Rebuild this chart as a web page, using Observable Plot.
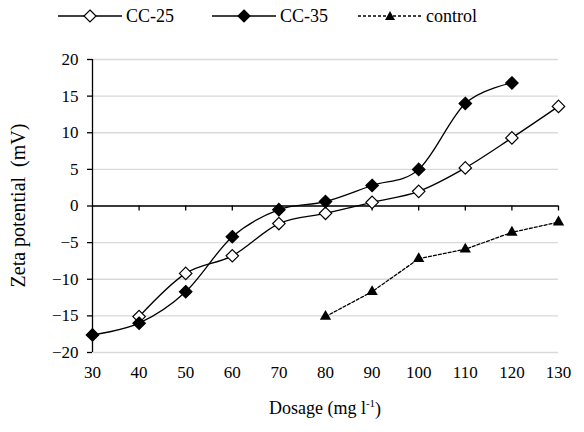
<!DOCTYPE html>
<html>
<head>
<meta charset="utf-8">
<script src="https://cdn.jsdelivr.net/npm/d3@7"></script>
<script src="https://cdn.jsdelivr.net/npm/@observablehq/plot@0.6"></script>
<style>
  body { margin: 0; background: #fff; font-family: "Liberation Serif", "Times New Roman", serif; }
  #legend { height: 32px; display: flex; align-items: center; font-size: 18px; padding-left: 58px; }
  #legend .item { display: flex; align-items: center; }
  #legend svg { margin-right: 4px; }
</style>
</head>
<body>
<div id="legend"></div>
<div id="chart"></div>
<script>
const dosage = [30, 40, 50, 60, 70, 80, 90, 100, 110, 120, 130];
const cc25 = [null, -15.1, -9.2, -6.8, -2.4, -1.0, 0.5, 2.0, 5.2, 9.3, 13.6];
const cc35 = [-17.6, -16.0, -11.7, -4.2, -0.5, 0.6, 2.8, 5.0, 14.0, 16.8, null];
const control = [null, null, null, null, null, -15.1, -11.7, -7.2, -5.9, -3.6, -2.2];
const yTicks = [-20, -15, -10, -5, 0, 5, 10, 15, 20];
const xTicks = [30, 40, 50, 60, 70, 80, 90, 100, 110, 120, 130];
const seriesNames = ["CC-25", "CC-35", "control"];

const toRows = (vals) => dosage.map((x, i) => ({x, y: vals[i]})).filter(d => d.y != null);
const d25 = toRows(cc25), d35 = toRows(cc35), dc = toRows(control);

const chart = Plot.plot({
  width: 584,
  height: 400,
  marginLeft: 92,
  marginRight: 26,
  marginTop: 27,
  marginBottom: 80,
  style: {fontFamily: "'Liberation Serif', 'Times New Roman', serif", fontSize: "17px", color: "#000", background: "#fff"},
  x: {domain: [30, 130]},
  y: {domain: [-20, 20]},
  marks: [
    Plot.ruleY(yTicks, {stroke: "#d9d9d9", strokeWidth: 1.3}),
    Plot.ruleY([0], {stroke: "#000", strokeWidth: 1.3}),
    Plot.ruleX([30], {y1: -20, y2: 20, stroke: "#000", strokeWidth: 1.3}),
    Plot.ruleX(xTicks.slice(1), {x: d => d, y1: 0, y2: 0, insetBottom: -5, stroke: "#000", strokeWidth: 1.3}),
    Plot.axisY({ticks: yTicks, tickSize: 5, tickPadding: 9, label: null, strokeWidth: 1.3}),
    Plot.axisX({ticks: xTicks, tickSize: 0, tickPadding: 13, label: null}),
    Plot.line(dc, {x: "x", y: "y", stroke: "#000", strokeWidth: 1.3, strokeDasharray: "3,2"}),
    Plot.line(d25, {x: "x", y: "y", stroke: "#000", strokeWidth: 1.3, curve: "cardinal", tension: 0}),
    Plot.line(d35, {x: "x", y: "y", stroke: "#000", strokeWidth: 1.3, curve: "cardinal", tension: 0}),
    Plot.dot(dc, {x: "x", y: "y", symbol: "triangle", r: 4.2, fill: "#000", stroke: "none"}),
    Plot.dot(d25, {x: "x", y: "y", symbol: "diamond2", r: 5.6, fill: "#fff", stroke: "#000", strokeWidth: 1.2}),
    Plot.dot(d35, {x: "x", y: "y", symbol: "diamond2", r: 5.6, fill: "#000", stroke: "#000", strokeWidth: 1.2})
  ]
});
document.getElementById("chart").appendChild(chart);

// axis titles
const svg = d3.select(chart);
svg.append("text")
  .attr("transform", "translate(18,173.5) rotate(-90)")
  .attr("text-anchor", "middle").attr("dy", "0.35em")
  .attr("font-size", 20).attr("fill", "#000")
  .style("white-space", "pre")
  .text("Zeta potential  (mV)");
const xl = svg.append("text")
  .attr("x", 325).attr("y", 376)
  .attr("text-anchor", "middle").attr("dy", "0.35em")
  .attr("font-size", 18).attr("fill", "#000");
xl.append("tspan").text("Dosage (mg l");
xl.append("tspan").attr("font-size", 11).attr("dy", "-0.7em").text("-1");
xl.append("tspan").attr("dy", "0.45em").text(")");

// legend
const legend = d3.select("#legend");
const specs = [
  {name: seriesNames[0], dash: null, sym: "diamond", fill: "#fff", gap: 38},
  {name: seriesNames[1], dash: null, sym: "diamond", fill: "#000", gap: 30},
  {name: seriesNames[2], dash: "3,2", sym: "triangle", fill: "#000", gap: 0}
];
specs.forEach(s => {
  const it = legend.append("div").attr("class", "item").style("margin-right", s.gap + "px");
  const sw = it.append("svg").attr("width", 64).attr("height", 20);
  sw.append("line").attr("x1", 0).attr("x2", 64).attr("y1", 10).attr("y2", 10)
    .attr("stroke", "#000").attr("stroke-width", 1.3).attr("stroke-dasharray", s.dash);
  if (s.sym === "diamond") {
    sw.append("path").attr("d", "M32,4L38,10L32,16L26,10Z").attr("fill", s.fill).attr("stroke", "#000").attr("stroke-width", 1.2);
  } else {
    sw.append("path").attr("d", "M32,5L37,14L27,14Z").attr("fill", "#000");
  }
  it.append("span").text(s.name);
});
</script>
</body>
</html>
